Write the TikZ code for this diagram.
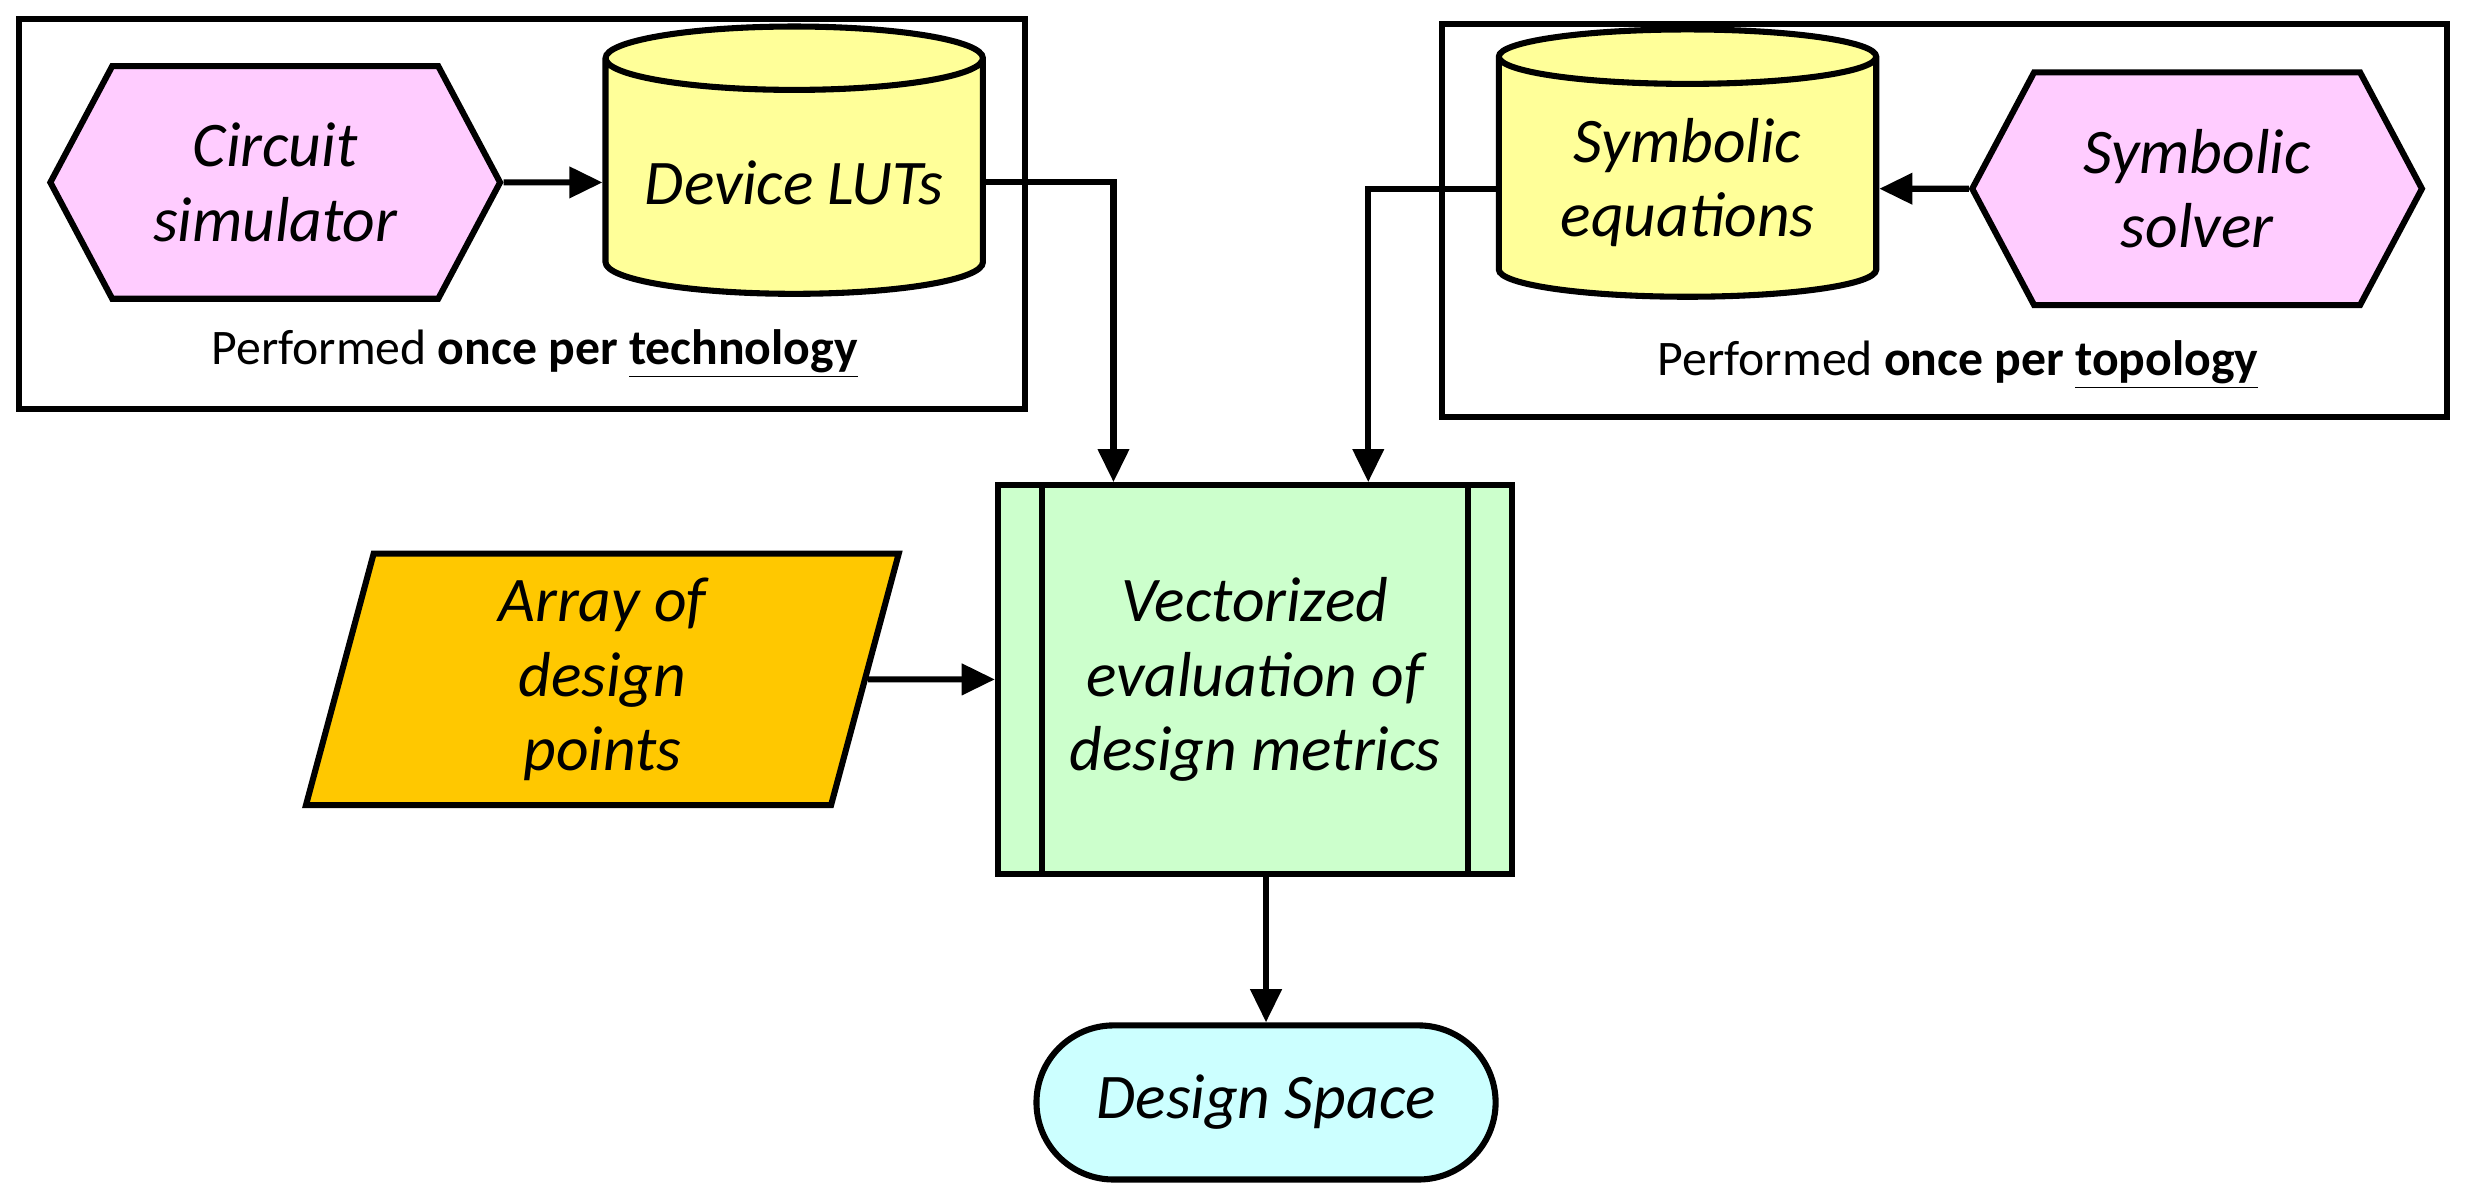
\documentclass[tikz,border=0pt]{standalone}
\usepackage{fontspec}
\setmainfont{Carlito}
\usetikzlibrary{shapes.geometric, shapes.symbols, arrows.meta, positioning}
\definecolor{hexpink}{HTML}{FFCCFF}
\definecolor{storeyel}{HTML}{FFFF99}
\definecolor{ptsgold}{HTML}{FFC800}
\definecolor{procgreen}{HTML}{CCFFCC}
\definecolor{termcyan}{HTML}{CCFFFF}

\begin{document}
\begin{tikzpicture}[
    x=0.02cm, y=-0.02cm, line width=2.2pt, >={Triangle[length=12pt,width=11pt]},
    hexa/.style={signal, signal to=east and west, signal pointer angle=124, draw, fill=hexpink, minimum width=5.72cm, minimum height=2.96cm, align=center, font=\fontsize{23}{27}\selectfont\itshape},
    store/.style={cylinder, shape border rotate=90, aspect=0.2, draw, fill=storeyel, minimum width=4.8cm, minimum height=3.4cm, align=center, font=\fontsize{23}{27}\selectfont\itshape},
    note/.style={font=\fontsize{18}{22}\selectfont}
]
    \useasboundingbox (0,0) rectangle (1568,763);

    % Technology part
    \draw (12,12) rectangle (652,260);
    \node[hexa] (circsim) at (175,116) {Circuit\\simulator};
    \node[store] (devluts) at (505,116) {Device LUTs};
    \node[note] (techlbl) at (340,225) {Performed \textbf{once per \underline{technology}}};
    \draw[->] (circsim) -- (devluts);

    % Topology part
    \draw (917,15) rectangle (1556,265);
    \node[store] (symeq) at (1073,116) {Symbolic\\equations};
    \node[hexa] (symsolv) at (1397,120) {Symbolic\\solver};
    \node[note] (topolbl) at (1245,232) {Performed \textbf{once per \underline{topology}}};
    \draw[->] (symsolv) -- (symsolv -| symeq.east);

    % Evaluation
    \node[rectangle, draw, fill=procgreen, minimum width=6.54cm, minimum height=4.94cm, align=center,
          font=\fontsize{23}{27}\selectfont\itshape] (evalm) at (798,432) {Vectorized\\evaluation of\\design metrics};
    \draw ([xshift=0.6cm]evalm.north west) -- ([xshift=0.6cm]evalm.south west);
    \draw ([xshift=-0.6cm]evalm.north east) -- ([xshift=-0.6cm]evalm.south east);

    \node[trapezium, trapezium left angle=73, trapezium right angle=107, trapezium stretches body, draw, fill=ptsgold,
          minimum width=7.54cm, minimum height=3.2cm, align=center, font=\fontsize{23}{27}\selectfont\itshape] (designpts) at (383,432) {Array of\\design\\points};

    \node[rectangle, rounded corners=0.98cm, draw, fill=termcyan, minimum width=5.84cm, minimum height=1.96cm,
          font=\fontsize{23}{27}\selectfont\itshape] (dspace) at (805,701) {Design Space};

    % Connections
    \draw[->] (devluts.east |- 0,116) -- (708,116) -- (evalm.north -| 708,0);
    \draw[->] (symeq.west |- 0,120) -- (870,120) -- (evalm.north -| 870,0);
    \draw[->] (designpts) -- (evalm);
    \draw[->] (evalm.south -| 805,0) -- (dspace);
\end{tikzpicture}
\end{document}
